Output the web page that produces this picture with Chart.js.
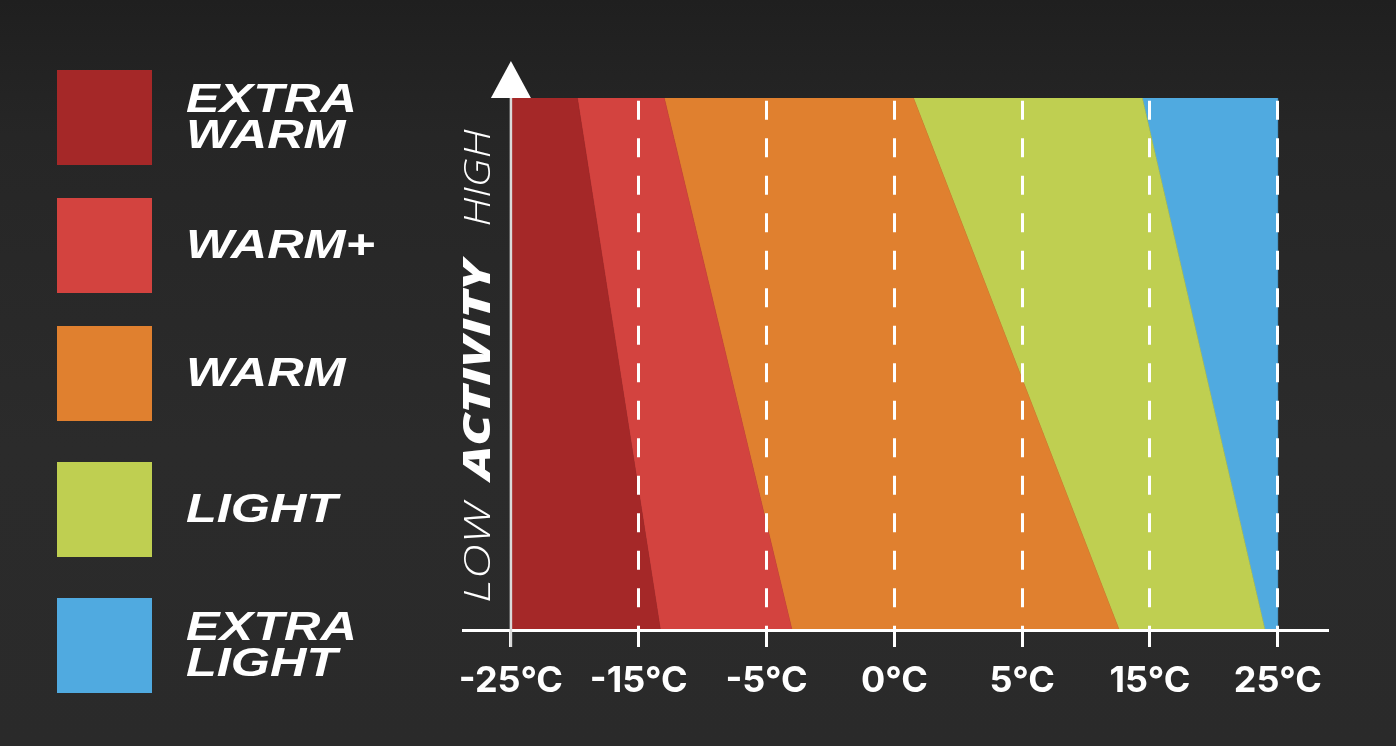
<!DOCTYPE html>
<html>
<head>
<meta charset="utf-8">
<script src="https://cdn.jsdelivr.net/npm/chart.js@4.4.0/dist/chart.umd.min.js"></script>
<style>
  html, body { margin: 0; padding: 0; }
  body {
    width: 1396px; height: 746px; overflow: hidden;
    background: linear-gradient(#1f1f1f 0%, #262626 18%, #2b2b2b 60%, #2a2a2a 100%);
  }
</style>
</head>
<body>
<canvas id="chart" width="1396" height="746"></canvas>
<script>
// x axis is positional: one step per tick label
const tempLabels = ['-25°C', '-15°C', '-5°C', '0°C', '5°C', '15°C', '25°C'];
const bandNames = [['EXTRA', 'WARM'], ['WARM+'], ['WARM'], ['LIGHT'], ['EXTRA', 'LIGHT']];
const bandColors = ['#a52828', '#d3433f', '#e0802f', '#bfcf51', '#50aae0'];
// band edges (in tick steps) at low activity (0) and high activity (1)
const edgeLow = [0, 1.17, 2.2, 4.76, 5.9, 6];
const edgeHigh = [0, 0.52, 1.2, 3.15, 4.94, 6];

const datasets = bandNames.map((name, i) => ({
  label: name.join(' '),
  data: [
    { x: edgeLow[i], y: 0 },
    { x: edgeLow[i + 1], y: 0 },
    { x: edgeHigh[i + 1], y: 1 },
    { x: edgeHigh[i], y: 1 },
    { x: edgeLow[i], y: 0 }
  ],
  backgroundColor: bandColors[i],
  borderColor: bandColors[i],
  borderWidth: 0.5,
  pointRadius: 0,
  tension: 0,
  fill: 'shape'
}));

function fitText(ctx, text, x, y, width, font) {
  ctx.save();
  ctx.font = font;
  const w = ctx.measureText(text).width;
  ctx.translate(x, y);
  ctx.scale(width / w, 1);
  ctx.textAlign = 'left';
  ctx.fillText(text, -w / 2, 0);
  ctx.restore();
}

const decorations = {
  id: 'decorations',
  afterDraw(chart) {
    const ctx = chart.ctx;
    const area = chart.chartArea;
    const x0 = chart.scales.x.getPixelForValue(0);

    // y axis line + arrow
    ctx.save();
    ctx.strokeStyle = '#d9d9d9';
    ctx.lineWidth = 2.5;
    ctx.beginPath();
    ctx.moveTo(x0, area.bottom + 17);
    ctx.lineTo(x0, area.top);
    ctx.stroke();
    ctx.fillStyle = '#ffffff';
    ctx.beginPath();
    ctx.moveTo(x0, area.top - 37);
    ctx.lineTo(x0 + 20, area.top);
    ctx.lineTo(x0 - 20, area.top);
    ctx.closePath();
    ctx.fill();

    // y axis title, rotated
    ctx.translate(x0 - 21, 0);
    ctx.rotate(-Math.PI / 2);
    ctx.fillStyle = '#ffffff';
    ctx.textBaseline = 'alphabetic';
    fitText(ctx, 'LOW', -553, 0, 100, 'italic 300 37px "Open Sans"');
    fitText(ctx, 'ACTIVITY', -370, 0, 220, 'italic 800 37px "Open Sans"');
    fitText(ctx, 'HIGH', -178, 0, 97, 'italic 300 37px "Open Sans"');
    ctx.restore();

    // legend
    const tops = [70, 198, 326, 462, 598];
    ctx.save();
    ctx.textBaseline = 'alphabetic';
    ctx.font = 'italic bold 40px "Liberation Sans"';
    bandNames.forEach((lines, i) => {
      ctx.fillStyle = bandColors[i];
      ctx.fillRect(57, tops[i], 95, 95);
      ctx.fillStyle = '#ffffff';
      const bases = lines.length === 1 ? [60] : [42, 78];
      lines.forEach((t, j) => {
        ctx.save();
        ctx.translate(186, tops[i] + bases[j]);
        ctx.scale(1.26, 1);
        ctx.fillText(t, 0, 0);
        ctx.restore();
      });
    });
    ctx.restore();
  }
};

new Chart(document.getElementById('chart'), {
  type: 'line',
  data: { datasets },
  options: {
    responsive: false,
    animation: false,
    layout: { padding: { left: 463, right: 69, top: 98, bottom: 0 } },
    plugins: { legend: { display: false }, tooltip: { enabled: false } },
    scales: {
      x: {
        type: 'linear',
        min: -0.375,
        max: 6.385,
        afterBuildTicks: scale => { scale.ticks = tempLabels.map((_, i) => ({ value: i })); },
        afterFit: scale => { scale.height = 116; },
        ticks: {
          callback: v => tempLabels[v],
          color: '#ffffff',
          font: { family: 'Inter', weight: 700, size: 36 },
          padding: 13,
          maxRotation: 0,
          autoSkip: false
        },
        grid: {
          z: 1,
          color: c => (c.tick && c.tick.value === 0 ? 'rgba(0,0,0,0)' : '#ffffff'),
          lineWidth: 3,
          tickColor: '#ffffff',
          tickLength: 17,
          tickWidth: 3
        },
        border: { display: true, color: '#ffffff', width: 3, z: 2, dash: [19, 18.5], dashOffset: 34.8 }
      },
      y: { display: false, min: 0, max: 1 }
    }
  },
  plugins: [decorations]
});
</script>
</body>
</html>
